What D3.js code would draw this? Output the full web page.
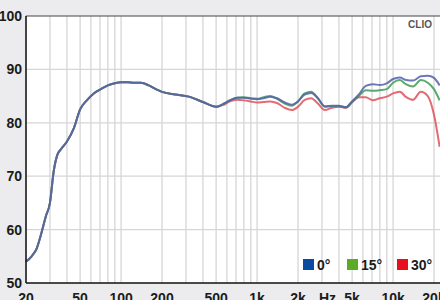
<!DOCTYPE html>
<html>
<head>
<meta charset="utf-8">
<script src="https://cdn.jsdelivr.net/npm/d3@7"></script>
<style>
body { margin: 0; background: #ececee; }
svg { display: block; }
text { font-family: "Liberation Sans Narrow", "Arial Narrow", "Liberation Sans", sans-serif; font-weight: bold; fill: #1b1b1b; }
</style>
</head>
<body>
<svg id="g" width="440" height="300"></svg>
<script>
var freqs = [20, 22, 24, 26, 28, 30, 32, 34, 36, 40, 45, 50, 56, 63, 71, 80, 90, 100, 112, 125, 140, 160, 180, 200, 250, 315, 400, 500,
    560, 630, 710, 800, 900, 1000, 1120, 1250, 1400, 1600, 1800, 2000, 2240, 2500, 2800, 3150, 3550, 4000, 4500, 5000,
    5600, 6300, 7100, 8000, 9000, 10000, 11200, 12500, 14000, 16000, 18000, 20000, 22000];

// low end is shared by all three angles
var low = [54, 55, 56.5, 59.4, 62.5, 65, 71, 74, 75, 76.5, 79, 82.5, 84.2, 85.5, 86.3, 87, 87.4, 87.6, 87.6, 87.5, 87.5, 87.0, 86.3, 85.8, 85.3, 84.9, 83.9, 83];

var deg0 = low.concat([83.5, 84.2, 84.7, 84.7, 84.5, 84.4, 84.6, 84.9, 84.6, 83.8, 83.4, 84, 85.3, 85.6, 84.6, 83.1, 83.2, 83.2, 82.9, 84,
    85.3, 86.9, 87.2, 87.1, 87.4, 88.2, 88.5, 88.0, 87.9, 88.7, 88.8, 88.4, 87]);
var deg15 = low.concat([83.5, 84.2, 84.7, 84.8, 84.6, 84.5, 84.8, 85.0, 84.5, 83.6, 83.2, 84, 85.5, 85.8, 84.6, 83.0, 83.1, 83.1, 82.9, 84,
    85.0, 86.1, 86.0, 86.1, 86.3, 87.5, 88.0, 87.2, 86.8, 88.0, 87.5, 86.3, 84.2]);
var deg30 = low.concat([83.3, 84.0, 84.3, 84.2, 84.0, 83.8, 83.9, 84.0, 83.7, 82.8, 82.4, 83, 84.3, 84.6, 83.6, 82.4, 82.8, 83.0, 82.8, 83.8,
    84.8, 84.8, 84.2, 84.6, 84.9, 85.5, 85.8, 84.8, 84.3, 85.8, 85.0, 81.5, 75.5]);

var series = [
    { name: "30°", vals: deg30, line: "#e0505c", key: "#e8101c" },
    { name: "15°", vals: deg15, line: "#3f9a56", key: "#5aac26" },
    { name: "0°", vals: deg0, line: "#5462aa", key: "#0a4aa0" }
];

var yTicks = [50, 60, 70, 80, 90, 100];
var gridF = [20, 30, 40, 50, 60, 70, 80, 90, 100, 200, 300, 400, 500, 600, 700, 800, 900, 1000,
    2000, 3000, 4000, 5000, 6000, 7000, 8000, 9000, 10000, 20000];
var xLabels = [[20, "20"], [50, "50"], [100, "100"], [200, "200"], [500, "500"], [1000, "1k"], [2000, "2k"],
    [3300, "Hz"], [5000, "5k"], [10000, "10k"], [20000, "20k"]];

var padL = 26, padT = 16, axisY = 283;
var svg = d3.select("#g");

var x = d3.scaleLog().domain([20, 20000]).range([padL, 434]);
var y = d3.scaleLinear().domain([50, 100]).range([axisY, padT]);

svg.append("rect").attr("x", padL).attr("y", padT).attr("width", 440 - padL).attr("height", axisY - padT).attr("fill", "#fff");

// grid
svg.append("g").selectAll("line").data(gridF).enter().append("line")
    .attr("x1", d => x(d)).attr("x2", d => x(d)).attr("y1", padT).attr("y2", axisY)
    .attr("stroke", "#d6d6d6").attr("stroke-width", 1.3);
svg.append("g").selectAll("line").data(yTicks.slice(1, -1)).enter().append("line")
    .attr("x1", padL).attr("x2", 440).attr("y1", d => y(d)).attr("y2", d => y(d))
    .attr("stroke", "#d6d6d6").attr("stroke-width", 1.3);

// curves
var line = d3.line().x((d, i) => x(freqs[i])).y(d => y(d)).curve(d3.curveMonotoneX);
svg.append("g").selectAll("path").data(series).enter().append("path")
    .attr("d", d => line(d.vals))
    .attr("fill", "none").attr("stroke", d => d.line).attr("stroke-width", 2)
    .attr("stroke-opacity", 0.85);

// frame
svg.append("line").attr("x1", padL).attr("x2", 440).attr("y1", padT).attr("y2", padT).attr("stroke", "#444").attr("stroke-width", 1);
svg.append("line").attr("x1", padL).attr("x2", padL).attr("y1", padT).attr("y2", axisY).attr("stroke", "#111").attr("stroke-width", 1.5);
svg.append("line").attr("x1", padL).attr("x2", 440).attr("y1", axisY).attr("y2", axisY).attr("stroke", "#111").attr("stroke-width", 1.5);

// labels
svg.append("g").selectAll("text").data(yTicks).enter().append("text")
    .attr("x", 22).attr("y", d => y(d)).attr("dy", "0.36em").attr("text-anchor", "end")
    .style("font-size", "14px").text(d => d);
svg.append("g").selectAll("text").data(xLabels).enter().append("text")
    .attr("x", d => x(d[0])).attr("y", 303).attr("text-anchor", "middle")
    .style("font-size", "14px").text(d => d[1]);

svg.append("text").attr("x", 432).attr("y", 28).attr("text-anchor", "end")
    .style("font-size", "10px").style("fill", "#555").text("CLIO");

// legend
var legend = svg.append("g").selectAll("g").data(series.slice().reverse()).enter().append("g")
    .attr("transform", (d, i) => "translate(" + [303, 347, 397][i] + ",259)");
legend.append("rect").attr("width", 11).attr("height", 11).attr("fill", d => d.key);
legend.append("text").attr("x", 14).attr("y", 5.5).attr("dy", "0.36em")
    .style("font-size", "14px").text(d => d.name);
</script>
</body>
</html>
